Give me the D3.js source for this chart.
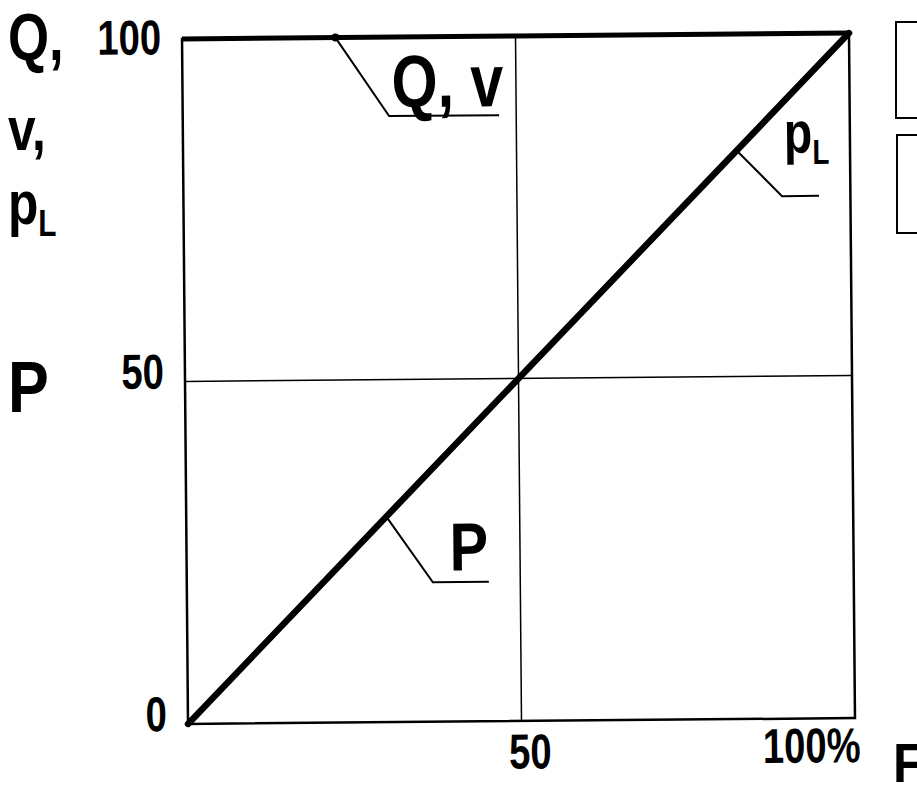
<!DOCTYPE html>
<html>
<head>
<meta charset="utf-8">
<script src="https://cdn.jsdelivr.net/npm/d3@7"></script>
<style>
  body { margin: 0; background: #fff; }
  text { font-family: "Liberation Sans", Arial, sans-serif; font-weight: bold; fill: #000; }
</style>
</head>
<body>
<svg width="917" height="788"></svg>
<script>
// F in %, and the three curves
var fValues = [0, 50, 100];
var pValues = [0, 50, 100];
var pLValues = [0, 50, 100];
var qvValues = [100, 100, 100];
var yTicks = [0, 50, 100];
var xTicks = [50, 100];

var svg = d3.select("svg");

var xScale = d3.scaleLinear()
    .domain([0, 100])
    .range([185, 852]);

var yScale = d3.scaleLinear()
    .domain([0, 100])
    .range([721, 36]);

// the scan sits a little crooked
var g = svg.append("g")
    .attr("transform", "rotate(-0.5, 518, 378)");

// grid at 50
g.append("line")
    .attr("x1", xScale(50)).attr("x2", xScale(50))
    .attr("y1", yScale(0)).attr("y2", yScale(100))
    .attr("stroke", "#000").attr("stroke-width", 1.5);
g.append("line")
    .attr("x1", xScale(0)).attr("x2", xScale(100))
    .attr("y1", yScale(50)).attr("y2", yScale(50))
    .attr("stroke", "#000").attr("stroke-width", 1.5);

// frame
g.append("rect")
    .attr("x", xScale(0))
    .attr("y", yScale(100))
    .attr("width", xScale(100) - xScale(0))
    .attr("height", yScale(0) - yScale(100))
    .attr("fill", "none")
    .attr("stroke", "#000")
    .attr("stroke-width", 2.5);

// axes, labels only
var yAxis = d3.axisLeft(yScale)
    .tickValues(yTicks)
    .tickSize(0)
    .tickPadding(0);

var yAxisG = g.append("g")
    .attr("transform", "translate(" + xScale(0) + ",0)")
    .call(yAxis);

var xAxis = d3.axisBottom(xScale)
    .tickValues(xTicks)
    .tickSize(0)
    .tickPadding(0)
    .tickFormat(function (d) { return d == 100 ? "100%" : d; });

var xAxisG = g.append("g")
    .attr("transform", "translate(0," + yScale(0) + ")")
    .call(xAxis);

g.selectAll(".domain").remove();
g.selectAll(".tick text")
    .style("font-family", "Liberation Sans, Arial, sans-serif")
    .style("font-weight", "bold")
    .style("font-size", "49px")
    .style("fill", "#000");

var sx = 0.78;

// scaling squeezes toward the tick, so move each label to keep its place
yAxisG.selectAll(".tick text")
    .attr("x", -21 / sx)
    .attr("y", 0)
    .attr("dy", function (d) { return d == 100 ? "0.3em" : "0.13em"; })
    .attr("transform", "scale(" + sx + ",1)");
xAxisG.selectAll(".tick text")
    .attr("transform", "scale(" + sx + ",1)")
    .attr("y", 0)
    .attr("dy", function (d) { return d == 100 ? "0.9em" : "0.97em"; })
    .attr("x", function (d) { return (d == 100 ? 5 : 8) / sx; })
    .attr("text-anchor", function (d) { return d == 100 ? "end" : "middle"; });

// curves
var line = d3.line()
    .x(function (d) { return xScale(d[0]); })
    .y(function (d) { return yScale(d[1]); });

g.append("path")
    .attr("d", line(d3.zip(fValues, qvValues)))
    .attr("fill", "none")
    .attr("stroke", "#000")
    .attr("stroke-width", 5);

g.append("path")
    .attr("d", line(d3.zip(fValues, pValues)))
    .attr("fill", "none")
    .attr("stroke", "#000")
    .attr("stroke-width", 6.5)
    .attr("stroke-linecap", "round");

// leaders with their labels
var leaders = [
    { f: 23, v: 100, dx: 53, dy: 79, len: 110 },
    { f: 83, v: 83, dx: 45, dy: 46, len: 37 },
    { f: 30, v: 30, dx: 46, dy: 66, len: 56 }
];

leaders.forEach(function (d) {
    var x0 = xScale(d.f), y0 = yScale(d.v);
    g.append("path")
        .attr("d", "M" + x0 + "," + y0 + "L" + (x0 + d.dx) + "," + (y0 + d.dy) + "h" + d.len)
        .attr("fill", "none")
        .attr("stroke", "#000")
        .attr("stroke-width", 2);
});

g.append("circle")
    .attr("cx", xScale(23)).attr("cy", yScale(100))
    .attr("r", 4).attr("fill", "#000");

function label(parent, x, y, size, sx, txt, sub) {
    var t = parent.append("text")
        .attr("transform", "translate(" + x + "," + y + ") scale(" + sx + ",1)")
        .attr("font-size", size);
    t.append("tspan").text(txt);
    if (sub) {
        t.append("tspan")
            .attr("font-size", size * 0.6)
            .attr("dy", size * 0.2)
            .text(sub);
    }
    return t;
}

label(g, 394, 106, 74, 0.8, "Q, v");
label(g, 786, 155, 58, 0.8, "p", "L");
label(g, 448, 570, 68, 0.85, "P");

// left axis title
label(svg, 8, 60, 66, 0.8, "Q,");
label(svg, 8, 150, 62, 0.8, "v,");
label(svg, 8, 224, 62, 0.8, "p", "L");
label(svg, 8, 412, 72, 0.85, "P");

// bottom axis title (cut at the page edge, as in the scan)
label(svg, 893, 782, 56, 0.9, "F");

// boxes at the right edge, cut off
svg.append("rect")
    .attr("x", 896).attr("y", 22)
    .attr("width", 60).attr("height", 96)
    .attr("fill", "none").attr("stroke", "#000").attr("stroke-width", 2);
svg.append("rect")
    .attr("x", 897).attr("y", 135)
    .attr("width", 60).attr("height", 98)
    .attr("fill", "none").attr("stroke", "#000").attr("stroke-width", 2);
</script>
</body>
</html>
